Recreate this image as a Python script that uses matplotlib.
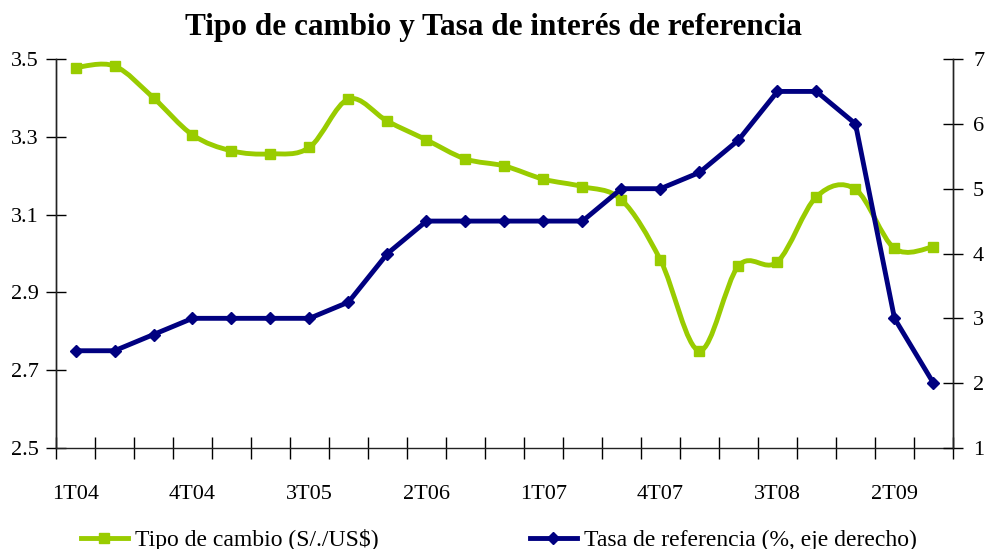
import matplotlib
import numpy as np

matplotlib.use("Agg")
import matplotlib.pyplot as plt  # noqa: E402
from matplotlib.lines import Line2D  # noqa: E402
from matplotlib.path import Path  # noqa: E402
from matplotlib.patches import PathPatch  # noqa: E402

plt.rcParams["font.family"] = ["Liberation Serif", "DejaVu Serif"]

quarters = ["1T04", "2T04", "3T04", "4T04", "1T05", "2T05", "3T05", "4T05",
            "1T06", "2T06", "3T06", "4T06", "1T07", "2T07", "3T07", "4T07",
            "1T08", "2T08", "3T08", "4T08", "1T09", "2T09", "3T09"]
tipo_cambio = [3.478, 3.482, 3.400, 3.305, 3.264, 3.256, 3.273, 3.397,
               3.340, 3.292, 3.243, 3.225, 3.191, 3.172, 3.138, 2.983,
               2.750, 2.968, 2.979, 3.146, 3.165, 3.013, 3.017]
tasa_ref = [2.5, 2.5, 2.75, 3.0, 3.0, 3.0, 3.0, 3.25, 4.0, 4.5, 4.5, 4.5,
            4.5, 4.5, 5.0, 5.0, 5.25, 5.75, 6.5, 6.5, 6.0, 3.0, 2.0]

GREEN = "#99cc00"
NAVY = "#000080"

x = np.arange(len(quarters))
y = np.array(tipo_cambio)

fig = plt.figure(figsize=(9.86, 5.49), dpi=100)
ax = fig.add_axes([0.0568, 0.184, 0.9097, 0.7085])
ax2 = ax.twinx()


def smooth_path(xs, ys):
    # Catmull-Rom style Bezier segments, like a spreadsheet "smoothed line"
    verts = [(xs[0], ys[0])]
    codes = [Path.MOVETO]
    n = len(xs)
    for i in range(n - 1):
        p0 = np.array([xs[max(i - 1, 0)], ys[max(i - 1, 0)]])
        p1 = np.array([xs[i], ys[i]])
        p2 = np.array([xs[i + 1], ys[i + 1]])
        p3 = np.array([xs[min(i + 2, n - 1)], ys[min(i + 2, n - 1)]])
        c1 = p1 + (p2 - p0) / 6.0
        c2 = p2 - (p3 - p1) / 6.0
        verts += [tuple(c1), tuple(c2), tuple(p2)]
        codes += [Path.CURVE4] * 3
    return Path(verts, codes)


ax.add_patch(PathPatch(smooth_path(x, y), fill=False, edgecolor=GREEN,
                       lw=3.5, capstyle="round", joinstyle="round"))
ax.plot(x, y, ls="none", marker="s", ms=7.5, color=GREEN)
ax2.plot(x, tasa_ref, "-", color=NAVY, lw=3.5, marker="D", ms=6.5)

ax.set_xlim(-0.5, len(quarters) - 0.5)
ax.set_ylim(2.5, 3.5)
ax2.set_ylim(1, 7)
ax.set_yticks(np.arange(2.5, 3.51, 0.2))
ax.set_yticklabels([f"{v:.1f}" for v in np.arange(2.5, 3.51, 0.2)])
ax2.set_yticks(range(1, 8))

ax.set_xticks(np.arange(-0.5, len(quarters)))
ax.set_xticklabels([])
ax.set_xticks(x[::3], minor=True)
ax.set_xticklabels(quarters[::3], minor=True)
ax.tick_params(axis="x", which="major", direction="inout", length=16, width=1)
ax.tick_params(axis="x", which="minor", length=0, pad=27, labelsize=16)
ax.tick_params(axis="y", direction="inout", length=15, width=1, pad=5, labelsize=16)
ax2.tick_params(axis="y", direction="inout", length=15, width=1, pad=7, labelsize=16)

for a in (ax, ax2):
    a.spines["top"].set_visible(False)
    for s in ("left", "right", "bottom"):
        a.spines[s].set_color("#222222")
        a.spines[s].set_linewidth(1)
ax2.spines["bottom"].set_visible(False)

fig.text(0.5, 1 - 28 / 549, "Tipo de cambio y Tasa de interés de referencia",
         ha="center", va="center", fontsize=22.5, fontweight="bold")

handles = [Line2D([], [], color=GREEN, lw=3.5, marker="s", ms=7),
           Line2D([], [], color=NAVY, lw=3.5, marker="D", ms=6)]
fig.legend(handles, ["Tipo de cambio (S/./US$)", "Tasa de referencia (%, eje derecho)"],
           loc="lower center", bbox_to_anchor=(0.506, -0.042), ncol=2, frameon=False,
           fontsize=17, handlelength=2.0, handletextpad=0.3, columnspacing=6.4)

fig.savefig("out.png", dpi=100)
